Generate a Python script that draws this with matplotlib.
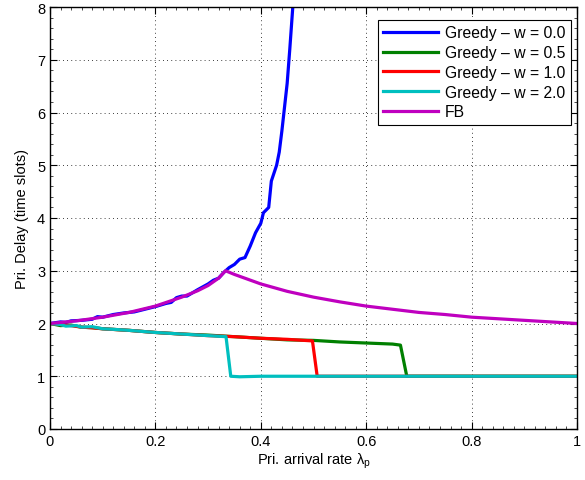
import matplotlib
matplotlib.use("Agg")
from matplotlib import pyplot as plt
from matplotlib.ticker import AutoMinorLocator

plt.rcParams['font.family'] = ['Liberation Sans', 'DejaVu Sans']

# Greedy, w = 0.0
x_w00 = [0.00, 0.02, 0.03, 0.04, 0.06, 0.08, 0.09, 0.10, 0.12, 0.14, 0.16, 0.18,
         0.20, 0.22, 0.23, 0.24, 0.25, 0.26, 0.28, 0.30, 0.31, 0.32, 0.33, 0.34,
         0.35, 0.36, 0.37, 0.38, 0.39, 0.40, 0.405, 0.415, 0.42, 0.43, 0.435,
         0.44, 0.45, 0.455, 0.46, 0.465]
y_w00 = [2.00, 2.03, 2.02, 2.05, 2.06, 2.08, 2.13, 2.12, 2.17, 2.20, 2.22, 2.27,
         2.32, 2.38, 2.40, 2.49, 2.52, 2.52, 2.64, 2.75, 2.82, 2.86, 2.97, 3.06,
         3.12, 3.22, 3.25, 3.47, 3.72, 3.90, 4.10, 4.20, 4.70, 5.00, 5.25,
         5.65, 6.55, 7.20, 7.90, 8.60]

# Greedy, w = 0.5
x_w05 = [0.00, 0.02, 0.04, 0.06, 0.08, 0.10, 0.15, 0.20, 0.25, 0.30, 0.35, 0.40,
         0.45, 0.50, 0.55, 0.60, 0.65, 0.665, 0.677, 0.75, 0.85, 1.00]
y_w05 = [2.00, 1.96, 1.97, 1.93, 1.92, 1.90, 1.87, 1.83, 1.80, 1.78, 1.75, 1.72,
         1.69, 1.68, 1.65, 1.63, 1.61, 1.59, 1.00, 1.00, 1.00, 1.00]

# Greedy, w = 1.0
x_w10 = [0.00, 0.02, 0.04, 0.06, 0.08, 0.10, 0.15, 0.20, 0.25, 0.30, 0.35, 0.40,
         0.45, 0.498, 0.507, 0.60, 0.80, 1.00]
y_w10 = [2.00, 1.98, 1.96, 1.93, 1.92, 1.90, 1.87, 1.83, 1.80, 1.77, 1.75, 1.72,
         1.70, 1.67, 1.00, 1.00, 1.00, 1.00]

# Greedy, w = 2.0
x_w20 = [0.00, 0.02, 0.03, 0.05, 0.06, 0.08, 0.10, 0.12, 0.15, 0.20, 0.25, 0.30,
         0.334, 0.343, 0.36, 0.40, 0.50, 0.70, 0.90, 1.00]
y_w20 = [2.00, 1.98, 1.95, 1.96, 1.93, 1.94, 1.90, 1.89, 1.87, 1.83, 1.80, 1.77,
         1.75, 1.00, 0.99, 1.00, 1.00, 1.00, 1.00, 1.00]

# FB
x_fb = [0.00, 0.05, 0.10, 0.15, 0.20, 0.25, 0.28, 0.30, 0.32, 0.333, 0.35, 0.40,
        0.45, 0.50, 0.55, 0.60, 0.65, 0.70, 0.75, 0.80, 0.85, 0.90, 0.95, 1.00]
y_fb = [2.00, 2.05, 2.12, 2.21, 2.33, 2.50, 2.62, 2.72, 2.86, 3.00, 2.93, 2.75,
        2.61, 2.50, 2.41, 2.33, 2.27, 2.21, 2.17, 2.12, 2.09, 2.06, 2.03, 2.00]

labels = ['Greedy \u2013 w = 0.0', 'Greedy \u2013 w = 0.5', 'Greedy \u2013 w = 1.0',
          'Greedy \u2013 w = 2.0', 'FB']
colors = ['#0000ff', '#008000', '#ff0000', '#00bfbf', '#bf00bf']
series = [(x_w00, y_w00), (x_w05, y_w05), (x_w10, y_w10), (x_w20, y_w20), (x_fb, y_fb)]

fig = plt.figure(figsize=(5.85, 4.81), dpi=100)
ax = fig.add_axes([50 / 585, 51 / 481, 527 / 585, 422 / 481])

for (xs, ys), c, lab in zip(series, colors, labels):
    ax.plot(xs, ys, color=c, lw=2.3, label=lab)

ax.set_xlim(0, 1)
ax.set_ylim(0, 8)
ax.set_xticks([0, 0.2, 0.4, 0.6, 0.8, 1])
ax.set_xticklabels(['0', '0.2', '0.4', '0.6', '0.8', '1'])
ax.set_yticks(range(0, 9))
ax.xaxis.set_minor_locator(AutoMinorLocator(10))
ax.yaxis.set_minor_locator(AutoMinorLocator(5))
ax.tick_params(which='both', direction='in', top=True, right=True, labelsize=10.5)
ax.tick_params(which='major', length=5, width=0.8)
ax.tick_params(which='minor', length=2, width=0.5)
ax.grid(True, which='major', color='black', linestyle=(0, (1, 4)), linewidth=0.6)
for s in ax.spines.values():
    s.set_linewidth(1.0)

ax.set_xlabel('Pri. arrival rate $\\mathregular{\\lambda_p}$', fontsize=10.5, labelpad=2)
ax.set_ylabel('Pri. Delay (time slots)', fontsize=10.5, labelpad=6)

leg = ax.legend(loc='upper right', bbox_to_anchor=(0.9886, 0.9692), borderaxespad=0,
                fontsize=11.3, fancybox=False, framealpha=1, edgecolor='black',
                handlelength=3.5, labelspacing=0.3, handletextpad=0.45,
                borderpad=0.35)
leg.get_frame().set_linewidth(0.8)

fig.savefig('out.png', dpi=100)
